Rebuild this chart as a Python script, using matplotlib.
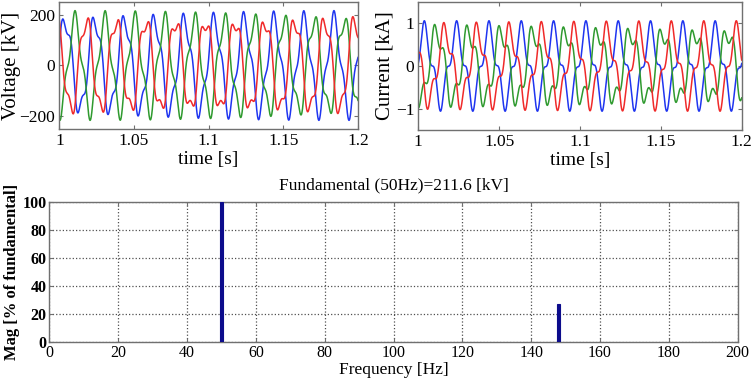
import numpy as np
import matplotlib
matplotlib.use("Agg")
import matplotlib.pyplot as plt

plt.rcParams['font.family'] = ['Liberation Serif', 'DejaVu Serif']

# ---------------------------------------------------------------------
# Data
# ---------------------------------------------------------------------
t_start, t_end = 1.0, 1.2
fund_hz = 50.0

# phase order as drawn: blue, green, red
phase_colors = ['#1f35f0', '#2f9a2f', '#f02a2a']

# voltage: fundamental / 3rd-ish harmonic peak values and angles (deg)
volt_fund_kv = 177.0
volt_harm_kv = 39.0
volt_angle = [70, 190, 322]
volt_harm_start = [132, 12, 252]
volt_harm_end = [-12, -132, 108]

# current
curr_fund_ka = 0.80
curr_harm_ka = 0.26
curr_angle = [67, 205, 300]
curr_harm_start = [0, 90, 70]
curr_harm_end = [10, 160, 0]

# FFT of voltage
spec_freq = [50, 148]
spec_mag = [100, 27]
fundamental_label = "Fundamental (50Hz)=211.6 [kV]"

t = np.linspace(t_start, t_end, 4001)


def phase_wave(a1, a3, ang, h0, h1):
    theta = 2 * np.pi * fund_hz * t - np.deg2rad(ang)
    alpha = np.deg2rad(h0 + (h1 - h0) * (t - t_start) / (t_end - t_start))
    return a1 * np.cos(theta) + a3 * np.cos(3 * theta + alpha)


def matlab_box(ax, size=12.5):
    for s in ax.spines.values():
        s.set_color('#707070')
        s.set_linewidth(1.0)
    ax.tick_params(direction='in', top=True, right=True, length=3,
                   color='#707070', labelsize=size, pad=3)


fig = plt.figure(figsize=(7.54, 3.81), dpi=100)
time_ticks = [1, 1.05, 1.1, 1.15, 1.2]
time_labels = ['1', '1.05', '1.1', '1.15', '1.2']

# ---------------------------------------------------------------------
# Voltage
# ---------------------------------------------------------------------
ax1 = fig.add_axes([0.0787, 0.6614, 0.3961, 0.3334])
for k in range(3):
    v = phase_wave(volt_fund_kv, volt_harm_kv, volt_angle[k],
                   volt_harm_start[k], volt_harm_end[k])
    ax1.plot(t, v, color=phase_colors[k], lw=1.1)
ax1.set_xlim(t_start, t_end)
ax1.set_ylim(-250, 250)
ax1.set_xticks(time_ticks)
ax1.set_xticklabels(time_labels)
ax1.set_yticks([-200, 0, 200])
matlab_box(ax1)
ax1.set_xlabel('time [s]', fontsize=14, labelpad=1)
ax1.set_ylabel('Voltage [kV]', fontsize=15, labelpad=-1)

# ---------------------------------------------------------------------
# Current
# ---------------------------------------------------------------------
ax2 = fig.add_axes([0.5548, 0.6588, 0.4289, 0.3360])
for k in range(3):
    i = phase_wave(curr_fund_ka, curr_harm_ka, curr_angle[k],
                   curr_harm_start[k], curr_harm_end[k])
    ax2.plot(t, i, color=phase_colors[k], lw=1.1)
ax2.set_xlim(t_start, t_end)
ax2.set_ylim(-1.5, 1.5)
ax2.set_xticks(time_ticks)
ax2.set_xticklabels(time_labels)
ax2.set_yticks([-1, 0, 1])
matlab_box(ax2)
ax2.set_xlabel('time [s]', fontsize=14, labelpad=1)
ax2.set_ylabel('Current [kA]', fontsize=15, labelpad=1)

# ---------------------------------------------------------------------
# Spectrum
# ---------------------------------------------------------------------
ax3 = fig.add_axes([0.0654, 0.1016, 0.9130, 0.3690])
ax3.bar(spec_freq, spec_mag, width=1.0, color='#0c0c8c',
        edgecolor='#0c0c8c', linewidth=0.8, zorder=3)
ax3.set_xlim(0, 200)
ax3.set_ylim(0, 100)
ax3.set_xticks(np.arange(0, 201, 20))
ax3.set_yticks(np.arange(0, 101, 20))
ax3.grid(True, linestyle=':', color='#505050', linewidth=0.9)
matlab_box(ax3, size=11.5)
ax3.tick_params(pad=2)
for lab in ax3.get_yticklabels():
    lab.set_fontweight('bold')
ax3.set_xlabel('Frequency [Hz]', fontsize=12.5, labelpad=1)
ax3.set_ylabel('Mag [% of fundamental]', fontsize=12, fontweight='bold',
               labelpad=2)
ax3.set_title(fundamental_label, fontsize=12.5, pad=9)

fig.savefig('out.png', dpi=100)
